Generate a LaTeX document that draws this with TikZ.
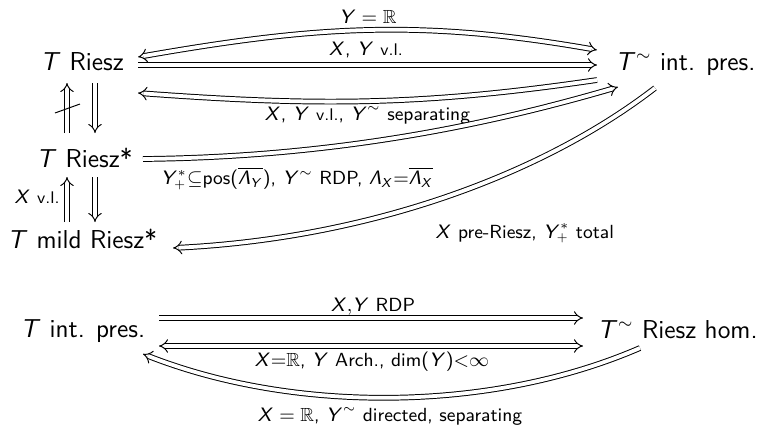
\documentclass[tikz,border=0pt]{standalone}
\usepackage{amssymb}
\usetikzlibrary{arrows.meta}
% sans-serif math: upright operators, slanted letters
\SetSymbolFont{operators}{normal}{OT1}{cmss}{m}{n}
\DeclareSymbolFont{sfletters}{OT1}{cmss}{m}{sl}
\DeclareMathSymbol{X}{\mathalpha}{sfletters}{`X}
\DeclareMathSymbol{Y}{\mathalpha}{sfletters}{`Y}
\DeclareMathSymbol{T}{\mathalpha}{sfletters}{`T}
\DeclareMathSymbol{\SLambda}{\mathalpha}{sfletters}{"03}
\newcommand\vlsmall{{\fontsize{7.8}{9}\selectfont v.l.}}
\tikzset{
  obj/.style={font=\sffamily\fontsize{12}{14}\selectfont, inner sep=0pt, anchor=base west},
  lbl/.style={font=\sffamily\fontsize{8.8}{10}\selectfont, inner sep=0pt, anchor=base},
  dbl/.style={double, double distance=1.75pt, line width=0.45pt},
  imp/.style={dbl, -{Implies}},
  impboth/.style={dbl, {Implies}-{Implies}},
}
\begin{document}
\begin{tikzpicture}[x=0.463pt, y=-0.463pt]
\useasboundingbox (0,0) rectangle (770,425);

% objects
\node[obj] (R)   at (40,70)   {$T$ Riesz};
\node[obj] (TI)  at (615,70)  {$T^\sim$ int. pres.};
\node[obj] (RS)  at (36,167)  {$T$ Riesz*};
\node[obj] (MR)  at (7,248)   {$T$ mild Riesz*};
\node[obj] (IP)  at (20,337)  {$T$ int. pres.};
\node[obj] (TRH) at (597,338) {$T^\sim$ Riesz hom.};

% top row
\draw[impboth] ([shift={(98,-13)}]R.base west)
  .. controls +(177,-31) and +(-177,-31) .. ([shift={(-18,-20)}]TI.base west)
  node[lbl, pos=0.5, shift={(0.5,-7.25)}] {$Y=\mathbb{R}$};
\draw[imp] ([shift={(98,-5)}]R.base west) -- ([shift={(-18,-5)}]TI.base west)
  node[lbl, pos=0.5, shift={(-1.5,-10)}] {$X$, $Y$ \vlsmall};
\draw[imp] ([shift={(-18,10)}]TI.base west)
  .. controls +(-177,26) and +(177,13) .. ([shift={(98,23)}]R.base west)
  node[lbl, pos=0.5, shift={(0,19)}] {$X$, $Y$ \vlsmall, $Y^\sim$ separating};
\draw[imp] ([shift={(107,-8)}]RS.base west)
  .. controls +(200,-2) and +(-120,35) .. ([shift={(3,17)}]TI.base west)
  node[lbl, pos=0.5, shift={(-113.5,49.6)}]
  {$Y_+^*{\subseteq}$pos$(\overline{\SLambda_Y})$, $Y^\sim$ RDP, $\SLambda_X{=}\overline{\SLambda_X}$};
\draw[imp] ([shift={(40,18)}]TI.base west)
  .. controls +(-110,85) and +(200,-10) .. ([shift={(166,0)}]MR.base west)
  node[lbl, pos=0.5, shift={(77,42)}] {$X$ pre-Riesz, $Y_+^*$ total};

% left column
\draw[imp] ([shift={(31,-34)}]RS.base west) -- ([shift={(27,13)}]R.base west);
\draw[line width=0.45pt] ([shift={(15,43)}]R.base west) -- ([shift={(40,34)}]R.base west);
\draw[imp] ([shift={(55,13)}]R.base west) -- ([shift={(59,-34)}]RS.base west);
\draw[imp] ([shift={(60,-26)}]MR.base west) -- ([shift={(31,10)}]RS.base west)
  node[lbl, anchor=base east, pos=0.5, shift={(-7,3.5)}] {$X$ \vlsmall};
\draw[imp] ([shift={(59,10)}]RS.base west) -- ([shift={(88,-26)}]MR.base west);

% bottom row
\draw[imp] ([shift={(139,-19)}]IP.base west) -- ([shift={(-14,-20)}]TRH.base west)
  node[lbl, pos=0.5, shift={(2,-7)}] {$X{,}Y$ RDP};
\draw[impboth] ([shift={(139,9)}]IP.base west) -- ([shift={(-14,8)}]TRH.base west)
  node[lbl, pos=0.5, shift={(1,20)}] {$X{=}\mathbb{R}$, $Y$ Arch.{,} dim$(Y){<}\infty$};
\draw[imp] ([shift={(43,10)}]TRH.base west)
  .. controls +(-150,65) and +(150,59) .. ([shift={(123,17)}]IP.base west)
  node[lbl, pos=0.5, shift={(-1.5,23.5)}] {$X=\mathbb{R}$, $Y^\sim$ directed, separating};
\end{tikzpicture}
\end{document}
